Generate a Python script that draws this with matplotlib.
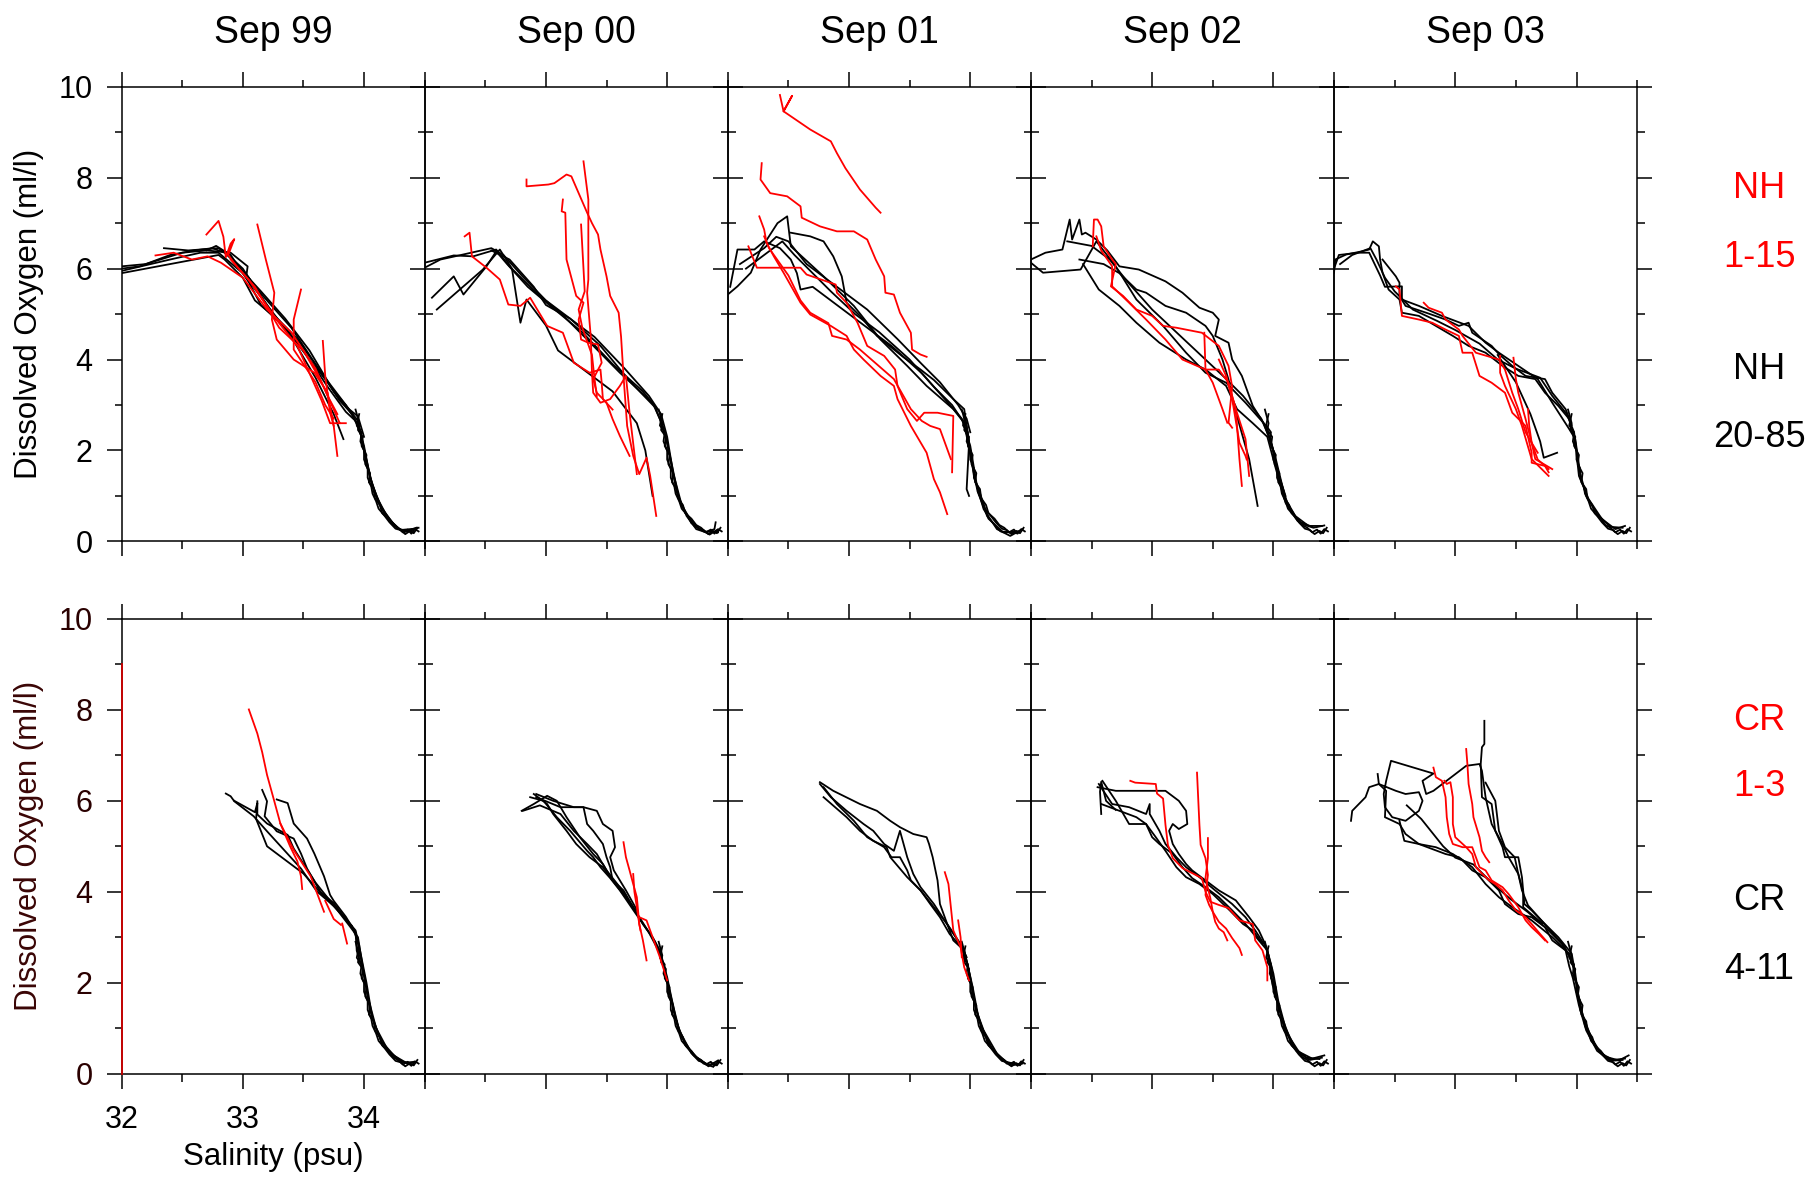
import matplotlib.pyplot as plt
from matplotlib.ticker import MultipleLocator

plt.rcParams['font.family'] = ['Liberation Sans', 'DejaVu Sans']

years = ['Sep 99', 'Sep 00', 'Sep 01', 'Sep 02', 'Sep 03']

# profiles as (salinity, oxygen) points
# ---- NH line, Sep 99
nh99_black = [
    [(32.0,5.9),(32.3,6.05),(32.6,6.2),(32.8,6.3),(32.85,6.2),(33.0,5.8),(33.1,5.3),(33.3,4.85),(33.5,4.2),(33.7,3.4),(33.85,2.85),(33.95,2.6),(34.0,2.1),(34.05,1.4),(34.13,0.8),(34.25,0.35),(34.33,0.2),(34.43,0.3)],
    [(32.0,6.0),(32.15,6.05),(32.4,6.3),(32.6,6.4),(32.75,6.45),(32.85,6.35),(32.95,6.1),(33.05,5.8),(33.25,5.0),(33.45,4.45),(33.65,3.7),(33.85,3.0),(33.95,2.65),(34.0,2.0),(34.06,1.3),(34.15,0.7),(34.27,0.3),(34.35,0.22),(34.45,0.3)],
    [(32.0,6.05),(32.2,6.1),(32.5,6.35),(32.7,6.4),(32.9,6.35),(33.04,6.05),(33.03,5.85),(33.15,5.5),(33.35,4.9),(33.55,4.2),(33.75,3.3),(33.85,3.0),(33.92,2.7),(33.98,2.3),(34.03,1.6),(34.1,1.0),(34.2,0.5),(34.3,0.25),(34.4,0.25)],
    [(32.0,5.95),(32.4,6.2),(32.65,6.35),(32.8,6.35),(33.0,5.9),(33.2,5.2),(33.4,4.5),(33.6,3.6),(33.75,2.8),(33.83,2.25)],
    [(32.35,6.45),(32.55,6.4),(32.8,6.45),(32.88,6.3),(33.0,6.0),(33.1,5.6),(33.2,5.3),(33.4,4.7),(33.6,3.9),(33.8,3.1),(33.9,2.8),(33.96,2.5),(34.02,1.8),(34.08,1.1),(34.18,0.55),(34.3,0.25),(34.42,0.28)],
    [(32.7,6.4),(32.78,6.5),(32.9,6.3),(33.05,5.7),(33.15,5.2),(33.35,4.7),(33.55,4.0),(33.7,3.5),(33.8,3.1),(33.88,2.9),(33.95,2.75),(34.0,2.3)],
]
nh99_red = [
    [(32.28,6.29),(32.43,6.35),(32.58,6.2),(32.71,6.27),(32.82,6.13),(33.0,5.8),(33.2,5.1),(33.4,4.6),(33.6,3.8),(33.7,3.2),(33.78,2.8)],
    [(32.7,6.75),(32.8,7.05),(32.84,6.7),(32.86,6.25),(32.9,6.55),(32.93,6.65),(32.88,6.3),(32.95,6.05),(33.1,5.6),(33.3,4.7),(33.5,4.2),(33.65,3.5),(33.8,2.6),(33.85,2.6)],
    [(33.12,6.97),(33.19,6.2),(33.26,5.47),(33.24,4.88),(33.28,4.44),(33.42,4.0),(33.59,3.71),(33.7,3.27),(33.75,2.54),(33.78,1.88)],
    [(33.48,5.54),(33.42,4.88),(33.42,4.22),(33.5,3.9),(33.6,3.5),(33.68,3.0),(33.75,2.7)],
    [(33.66,4.41),(33.68,3.64),(33.72,2.83),(33.75,2.54)],
    [(32.9,6.2),(33.05,5.75),(33.3,4.8),(33.45,4.3),(33.55,3.7),(33.65,3.1),(33.72,2.6),(33.8,2.6)],
]
# ---- NH line, Sep 00
nh00_black = [
    [(32.0,6.13),(32.24,6.29),(32.4,6.27),(32.59,6.42),(32.7,6.05),(32.92,5.47),(33.12,5.03),(33.34,4.44),(33.61,3.71),(33.88,3.05),(33.94,2.69),(34.0,2.17),(34.04,1.6),(34.08,1.08),(34.16,0.56),(34.24,0.27),(34.32,0.2),(34.39,0.27),(34.4,0.42)],
    [(32.0,6.02),(32.13,6.2),(32.3,6.3),(32.55,6.45),(32.65,6.3),(32.8,5.85),(33.0,5.3),(33.2,4.9),(33.45,4.3),(33.7,3.5),(33.9,2.95),(33.97,2.5),(34.03,1.8),(34.1,0.9),(34.2,0.4),(34.3,0.22),(34.42,0.2)],
    [(32.06,5.36),(32.24,5.83),(32.32,5.43),(32.51,6.05),(32.59,6.38),(32.68,6.1),(32.85,5.6),(33.05,5.15),(33.3,4.6),(33.55,3.9),(33.8,3.3),(33.92,2.9)],
    [(32.1,5.1),(32.32,5.61),(32.48,5.98),(32.62,6.42),(32.72,6.0),(32.79,4.81),(32.84,5.32),(33.0,4.75),(33.1,4.2),(33.3,3.8),(33.55,3.3),(33.75,2.6),(33.82,2.0),(33.88,1.0)],
    [(32.55,6.4),(32.7,6.2),(32.9,5.6),(33.0,5.2),(33.2,4.9),(33.4,4.5),(33.65,3.8),(33.85,3.2),(33.95,2.8),(34.0,2.3),(34.05,1.5),(34.12,0.8),(34.22,0.35),(34.35,0.15),(34.41,0.25)],
]
nh00_red = [
    [(32.33,6.71),(32.37,6.79),(32.39,6.27),(32.51,6.02),(32.62,5.76),(32.69,5.21),(32.79,5.18),(32.87,5.36),(33.01,4.74),(33.14,4.59),(33.23,3.93),(33.36,3.71),(33.45,3.78),(33.46,3.49),(33.47,3.13),(33.55,2.9)],
    [(32.84,7.96),(32.84,7.81),(33.02,7.85),(33.07,7.88),(33.17,8.07),(33.21,8.03),(33.34,7.23),(33.38,7.0),(33.43,6.75),(33.45,6.42),(33.5,5.83),(33.53,5.4),(33.6,5.03),(33.62,4.5),(33.64,3.64),(33.67,2.54),(33.72,1.88),(33.77,1.48),(33.83,1.84),(33.86,1.44),(33.91,0.56)],
    [(33.31,8.36),(33.35,7.52),(33.35,5.76),(33.34,5.47),(33.37,4.5),(33.38,3.71),(33.39,3.27),(33.45,3.05),(33.53,3.13),(33.61,3.42),(33.66,3.64),(33.69,2.83),(33.75,1.48)],
    [(33.14,7.52),(33.13,7.26),(33.16,7.23),(33.17,6.2),(33.25,5.4),(33.31,5.25),(33.27,4.88),(33.29,4.44),(33.35,4.37),(33.43,4.33),(33.46,3.93),(33.39,3.57),(33.42,3.27),(33.5,3.05),(33.55,2.69),(33.61,2.32),(33.69,1.88)],
    [(33.29,6.97),(33.31,6.0),(33.32,5.5),(33.27,5.1),(33.3,4.7),(33.38,4.1),(33.4,3.6),(33.42,3.2)],
]
# ---- NH line, Sep 01
nh01_black = [
    [(32.0,5.43),(32.08,5.61),(32.19,5.91),(32.27,6.42),(32.41,7.0),(32.49,7.15),(32.52,6.49),(32.79,5.83),(33.04,5.18),(33.26,4.44),(33.48,3.86),(33.64,3.42),(33.86,2.91),(33.97,2.54),(34.03,1.44),(34.11,0.71),(34.22,0.27),(34.33,0.12),(34.43,0.27)],
    [(32.52,6.79),(32.68,6.71),(32.79,6.6),(32.87,6.27),(32.94,5.83),(32.96,5.54),(32.98,5.25),(33.09,4.96),(33.23,4.52),(33.45,4.05),(33.59,3.78),(33.7,3.55),(33.86,3.13),(33.95,2.91),(33.99,2.17),(33.97,1.15),(33.99,1.0)],
    [(32.02,5.6),(32.08,6.42),(32.22,6.42),(32.3,6.6),(32.43,6.45),(32.52,6.2),(32.57,5.9),(32.6,5.54),(32.7,5.6),(32.9,5.2),(33.1,4.8),(33.35,4.3),(33.6,3.7),(33.8,3.1),(33.93,2.7),(34.0,2.1),(34.05,1.3),(34.15,0.5),(34.27,0.2),(34.4,0.22)],
    [(32.15,6.0),(32.3,6.3),(32.45,6.6),(32.55,6.3),(32.7,5.9),(32.85,5.5),(33.05,5.0),(33.25,4.6),(33.5,4.0),(33.7,3.4),(33.85,3.0),(33.95,2.6),(34.0,1.9),(34.06,1.1),(34.14,0.55),(34.25,0.22),(34.38,0.18)],
    [(32.1,6.1),(32.3,6.45),(32.4,6.7),(32.5,6.6),(32.65,6.1),(32.9,5.6),(33.15,5.1),(33.4,4.45),(33.6,3.9),(33.75,3.5),(33.9,3.0),(33.97,2.7),(34.0,2.4)],
]
nh01_red = [
    [(32.43,9.82),(32.46,9.46),(32.53,9.8),(32.46,9.46),(32.68,9.06),(32.85,8.8),(32.9,8.54),(32.97,8.21),(33.09,7.74),(33.22,7.34),(33.26,7.23)],
    [(32.28,8.32),(32.27,7.96),(32.35,7.66),(32.49,7.59),(32.6,7.37),(32.61,7.12),(32.76,6.93),(32.9,6.82),(33.04,6.82),(33.15,6.64),(33.22,6.2),(33.29,5.83),(33.3,5.47),(33.37,5.43),(33.42,5.03),(33.51,4.59),(33.52,4.22),(33.59,4.11),(33.64,4.06)],
    [(32.26,7.15),(32.3,6.86),(32.32,6.57),(32.38,6.27),(32.46,5.91),(32.6,5.25),(32.68,4.99),(32.85,4.74),(32.98,4.52),(33.04,4.22),(33.12,4.0),(33.26,3.64),(33.37,3.42),(33.4,3.13),(33.51,2.54),(33.64,1.95),(33.7,1.37),(33.75,1.08),(33.81,0.6)],
    [(32.17,6.49),(32.24,6.02),(32.6,6.02),(32.65,5.87),(32.89,5.65),(32.9,5.47),(32.98,5.25),(33.07,4.81),(33.15,4.3),(33.29,4.08),(33.38,3.78),(33.4,3.42),(33.48,2.91),(33.56,2.65),(33.62,2.83),(33.73,2.83),(33.86,2.76),(33.85,1.52)],
    [(32.3,6.71),(32.34,6.45),(32.5,5.85),(32.6,5.3),(32.68,5.03),(32.83,4.8),(32.86,4.52),(32.98,4.44),(33.09,4.22),(33.37,3.57),(33.51,2.91),(33.6,2.65),(33.67,2.54),(33.75,2.47),(33.84,1.81)],
]
# ---- NH line, Sep 02
nh02_black = [
    [(32.0,6.13),(32.1,5.91),(32.41,5.98),(32.54,6.6),(32.7,6.05),(32.87,5.32),(33.09,4.74),(33.28,4.15),(33.44,3.71),(33.61,3.49),(33.77,3.05),(33.94,2.54),(34.02,1.81),(34.1,0.93),(34.18,0.56),(34.29,0.34),(34.4,0.34)],
    [(32.0,6.2),(32.12,6.35),(32.26,6.42),(32.32,7.08),(32.34,6.64),(32.4,7.08),(32.42,6.75),(32.45,6.79),(32.54,6.64),(32.63,6.4),(32.73,6.05),(32.89,5.98),(33.11,5.72),(33.25,5.47),(33.39,5.14),(33.5,5.03),(33.55,4.88),(33.52,4.52),(33.63,4.37),(33.66,4.0),(33.74,3.64),(33.83,2.98),(33.92,2.6),(33.99,2.1),(34.05,1.4),(34.12,0.8),(34.22,0.4),(34.33,0.3),(34.42,0.35)],
    [(32.4,6.2),(32.6,6.1),(32.73,5.9),(32.87,5.54),(32.95,5.47),(33.11,5.18),(33.28,5.03),(33.44,4.74),(33.5,4.52),(33.58,4.0),(33.63,3.56),(33.66,3.13),(33.8,1.81),(33.87,0.78)],
    [(32.43,6.1),(32.56,5.54),(32.73,5.18),(32.87,4.81),(33.06,4.37),(33.28,4.0),(33.44,3.78),(33.61,3.42),(33.7,2.91),(33.83,2.6),(33.95,2.3),(34.02,1.6),(34.1,0.85),(34.2,0.45),(34.32,0.32)],
    [(32.3,6.6),(32.5,6.5),(32.65,6.2),(32.8,5.7),(33.0,5.1),(33.2,4.6),(33.4,4.1),(33.6,3.6),(33.75,3.2),(33.9,2.7),(33.98,2.2),(34.04,1.5),(34.1,1.0)],
]
nh02_red = [
    [(32.51,6.49),(32.52,7.08),(32.55,7.08),(32.58,6.93),(32.6,6.49),(32.67,6.2),(32.7,6.1),(32.66,5.61),(32.76,5.4),(32.87,5.1),(33.0,4.96),(33.09,4.74),(33.2,4.7),(33.41,4.59),(33.55,4.3),(33.63,3.86),(33.66,3.4),(33.63,2.61),(33.66,2.5)],
    [(32.54,6.71),(32.58,6.4),(32.67,6.05),(32.67,5.61),(32.81,5.25),(32.95,4.88),(33.11,4.44),(33.25,4.0),(33.44,3.78),(33.55,3.78),(33.63,3.49),(33.69,2.91),(33.77,2.25),(33.8,1.44)],
    [(33.43,4.59),(33.44,3.78),(33.5,3.49),(33.58,2.91),(33.62,2.61)],
    [(33.55,4.0),(33.61,3.64),(33.69,2.91),(33.72,1.81),(33.74,1.22)],
    [(33.61,3.64),(33.66,3.13),(33.72,2.17),(33.77,1.88),(33.78,1.8)],
]
# ---- NH line, Sep 03
nh03_black = [
    [(32.0,5.91),(32.01,6.2),(32.1,6.31),(32.23,6.38),(32.29,6.42),(32.32,6.6),(32.37,6.49),(32.38,6.2),(32.4,5.91),(32.45,5.54),(32.54,5.32),(32.56,5.03),(32.7,4.96),(32.84,4.74),(32.98,4.52),(33.11,4.3),(33.25,4.15),(33.39,3.86),(33.52,3.64),(33.66,3.57),(33.74,3.27),(33.85,2.98),(33.94,2.69),(33.99,2.17),(34.02,1.44),(34.1,0.93),(34.21,0.49),(34.32,0.27),(34.4,0.34)],
    [(32.0,6.0),(32.04,6.3),(32.2,6.35),(32.29,6.35),(32.38,5.85),(32.42,5.6),(32.56,5.61),(32.56,5.32),(32.7,5.18),(32.89,4.96),(33.11,4.74),(33.25,4.37),(33.36,4.15),(33.52,3.86),(33.68,3.57),(33.8,3.05),(33.94,2.47),(33.99,2.25),(34.03,1.5),(34.08,1.0),(34.17,0.6),(34.28,0.32),(34.38,0.3)],
    [(32.4,6.2),(32.51,5.83),(32.54,5.69),(32.54,5.4),(32.59,5.18),(32.76,5.03),(32.92,4.88),(33.03,4.74),(33.11,4.81),(33.14,4.59),(33.3,4.3),(33.36,4.12),(33.47,3.86),(33.58,3.64),(33.74,3.57),(33.8,3.27),(33.91,2.91),(33.96,2.56)],
    [(32.05,6.1),(32.15,6.3),(32.3,6.45),(32.35,6.2),(32.42,5.8),(32.5,5.5),(32.65,5.1),(32.85,4.85),(33.0,4.65),(33.2,4.35),(33.35,4.0),(33.5,3.8),(33.6,3.7),(33.7,3.6),(33.8,3.2),(33.92,2.8),(33.98,2.4),(34.0,2.0)],
    [(33.35,4.1),(33.5,3.5),(33.62,2.8),(33.7,2.2),(33.73,1.84),(33.77,1.88),(33.84,1.95)],
]
nh03_red = [
    [(32.51,5.61),(32.54,5.54),(32.56,4.96),(32.7,4.88),(32.81,4.81),(32.92,4.66),(33.03,4.52),(33.06,4.15),(33.14,4.15),(33.2,3.64),(33.3,3.49),(33.41,3.27),(33.47,2.83),(33.58,2.54),(33.63,1.95),(33.63,1.73),(33.74,1.66),(33.77,1.52)],
    [(32.74,5.25),(32.78,5.14),(32.89,5.03),(32.92,4.88),(33.03,4.66),(33.06,4.52),(33.17,4.15),(33.36,4.0),(33.41,3.78),(33.47,3.27),(33.52,2.91),(33.58,2.4),(33.63,2.17),(33.68,1.8),(33.77,1.59)],
    [(33.37,4.08),(33.37,3.71),(33.41,3.42),(33.5,2.91),(33.55,2.54),(33.63,1.81),(33.77,1.44)],
    [(33.48,4.04),(33.5,3.57),(33.52,3.27),(33.58,2.69),(33.63,2.17),(33.66,1.81),(33.8,1.59)],
    [(33.6,2.91),(33.61,2.54),(33.63,2.17),(33.68,1.95)],
]
# ---- CR line, Sep 99
cr99_black = [
    [(32.86,6.16),(32.9,6.1),(32.93,5.99),(33.09,5.66),(33.2,5.33),(33.34,4.92),(33.48,4.51),(33.61,4.01),(33.75,3.69),(33.86,3.36),(33.93,3.11),(33.94,2.7),(34.0,2.2),(34.05,1.38),(34.14,0.72),(34.25,0.39),(34.36,0.22),(34.41,0.26)],
    [(33.16,6.24),(33.2,5.99),(33.18,5.66),(33.28,5.33),(33.42,5.17),(33.48,4.84),(33.53,4.51),(33.64,4.0),(33.75,3.75),(33.85,3.4),(33.93,3.15),(33.96,2.8),(34.02,2.0),(34.07,1.2),(34.16,0.6),(34.28,0.3),(34.38,0.2)],
    [(33.28,6.03),(33.37,5.95),(33.42,5.5),(33.53,5.17),(33.59,4.84),(33.67,4.34),(33.72,3.93),(33.75,3.8),(33.85,3.45),(33.93,3.1),(33.97,2.6),(34.01,2.0)],
    [(33.12,5.99),(33.12,5.7),(33.2,5.5),(33.37,5.25),(33.42,4.95),(33.48,4.7),(33.6,4.2),(33.75,3.7),(33.88,3.25),(33.95,3.0),(33.98,2.5),(34.03,1.7),(34.1,1.0),(34.2,0.5),(34.32,0.25),(34.42,0.25)],
    [(32.93,6.0),(33.1,5.75),(33.12,5.95),(33.11,5.6),(33.2,5.0),(33.35,4.7),(33.5,4.4),(33.65,3.95),(33.8,3.55),(33.9,3.25),(33.95,2.9)],
]
cr99_red = [
    [(33.05,8.01),(33.12,7.48),(33.16,7.07),(33.2,6.57),(33.26,5.99),(33.31,5.5),(33.39,5.0),(33.45,4.67),(33.48,4.34),(33.49,4.06)],
    [(33.31,5.5),(33.42,4.92),(33.56,4.34),(33.67,3.56)],
    [(33.68,3.8),(33.75,3.4),(33.81,3.27)],
    [(33.82,3.3),(33.86,2.86)],
]
# ---- CR line, Sep 00
cr00_black = [
    [(32.8,5.78),(32.9,5.93),(33.01,6.11),(33.09,6.0),(33.17,5.64),(33.28,5.2),(33.39,4.83),(33.47,4.61),(33.55,4.25),(33.64,4.03),(33.72,3.66),(33.8,3.29),(33.88,3.0),(33.94,2.71),(34.0,2.12),(34.04,1.61),(34.08,1.1),(34.16,0.59),(34.27,0.29),(34.35,0.18),(34.42,0.29)],
    [(32.87,6.08),(32.98,6.0),(33.09,5.64),(33.2,5.34),(33.34,4.9),(33.39,4.76),(33.45,4.54),(33.53,4.3),(33.61,4.03),(33.72,3.6),(33.85,3.1),(33.95,2.6),(34.01,1.9),(34.06,1.3),(34.12,0.8),(34.22,0.4),(34.33,0.2),(34.4,0.2)],
    [(32.92,6.15),(33.06,6.0),(33.23,5.86),(33.31,5.86),(33.34,5.49),(33.39,5.34),(33.47,5.05),(33.5,4.76),(33.53,4.54),(33.55,4.25),(33.65,3.95),(33.78,3.4),(33.9,2.9),(33.97,2.4),(34.03,1.7),(34.1,0.95),(34.2,0.45),(34.3,0.22),(34.38,0.15)],
    [(32.92,6.08),(33.12,5.86),(33.31,5.86),(33.42,5.78),(33.47,5.49),(33.55,5.34),(33.57,4.98),(33.53,4.76),(33.56,4.47),(33.61,4.25),(33.66,4.03),(33.75,3.6)],
    [(32.9,6.15),(33.01,5.93),(33.06,5.71),(33.17,5.34),(33.25,5.05),(33.36,4.76),(33.47,4.54),(33.55,4.25),(33.68,3.8)],
    [(32.81,5.78),(32.95,5.9),(33.12,5.71),(33.23,5.34),(33.34,5.05),(33.42,4.83),(33.5,4.47),(33.61,4.1),(33.66,3.88),(33.74,3.59)],
]
cr00_red = [
    [(33.64,5.09),(33.66,4.76),(33.69,4.47),(33.72,4.17),(33.75,3.88),(33.76,3.59),(33.77,3.29),(33.78,3.15)],
    [(33.72,4.39),(33.73,4.0),(33.75,3.66),(33.77,3.29),(33.8,2.93),(33.83,2.49)],
    [(33.77,3.44),(33.83,3.37),(33.88,3.0),(33.94,2.56),(34.0,2.05)],
]
# ---- CR line, Sep 01
cr01_black = [
    [(32.76,6.41),(32.87,6.22),(33.09,5.93),(33.23,5.78),(33.34,5.56),(33.42,5.42),(33.53,5.27),(33.64,5.2),(33.66,5.05),(33.69,4.76),(33.73,4.25),(33.75,3.73),(33.81,3.29),(33.86,2.93),(33.95,2.71),(34.0,2.12),(34.05,1.39),(34.11,0.95),(34.22,0.44),(34.33,0.18),(34.43,0.22)],
    [(32.76,6.37),(32.85,6.08),(32.98,5.78),(33.12,5.49),(33.2,5.34),(33.29,5.05),(33.37,4.9),(33.42,5.34),(33.48,4.76),(33.53,4.39),(33.59,4.1),(33.7,3.73),(33.78,3.4),(33.88,3.0),(33.96,2.6),(34.02,1.9),(34.07,1.2),(34.15,0.65),(34.27,0.28),(34.38,0.2)],
    [(32.79,6.3),(32.9,5.93),(33.04,5.56),(33.15,5.2),(33.29,4.98),(33.35,4.76),(33.42,4.76),(33.48,4.47),(33.51,4.25),(33.59,4.03),(33.67,3.73),(33.75,3.44),(33.83,3.07),(33.92,2.8),(33.98,2.4),(34.03,1.6),(34.09,1.05),(34.18,0.55),(34.3,0.22),(34.4,0.2)],
    [(32.79,6.08),(32.98,5.64),(33.09,5.34),(33.2,5.12),(33.31,4.98),(33.34,4.76),(33.48,4.32),(33.59,4.03),(33.7,3.66),(33.81,3.29),(33.92,2.85),(33.97,2.56)],
]
cr01_red = [
    [(33.79,4.43),(33.82,4.17),(33.84,3.66),(33.86,3.15),(33.92,2.78),(33.95,2.34),(33.99,2.05)],
    [(33.9,3.37),(33.92,3.0),(33.93,2.56)],
]
# ---- CR line, Sep 02
cr02_black = [
    [(32.55,6.3),(32.7,6.22),(32.87,6.22),(33.0,6.22),(33.11,6.22),(33.22,6.0),(33.28,5.78),(33.29,5.49),(33.22,5.38),(33.17,5.49),(33.14,5.34),(33.17,5.05),(33.22,4.83),(33.28,4.61),(33.33,4.47),(33.44,4.25),(33.55,4.03),(33.69,3.81),(33.8,3.44),(33.88,3.15),(33.93,2.86),(33.96,2.56),(33.99,1.98),(34.05,1.39),(34.13,0.81),(34.21,0.48),(34.32,0.33),(34.42,0.4)],
    [(32.56,6.37),(32.67,5.93),(32.81,5.86),(32.95,5.71),(32.98,5.93),(32.98,5.71),(33.06,5.34),(33.11,5.05),(33.2,4.76),(33.28,4.54),(33.39,4.32),(33.52,4.03),(33.66,3.73),(33.77,3.44),(33.85,3.15),(33.94,2.78),(33.98,2.4),(34.02,1.75),(34.08,1.1),(34.16,0.6),(34.27,0.35),(34.38,0.32)],
    [(32.59,6.44),(32.7,6.0),(32.81,5.49),(32.95,5.49),(33.0,5.2),(33.06,5.05),(33.17,4.83),(33.25,4.54),(33.33,4.3),(33.44,4.1),(33.55,3.88),(33.66,3.59),(33.77,3.29),(33.88,2.93),(33.95,2.71),(34.0,2.2),(34.04,1.6),(34.1,1.0),(34.19,0.5),(34.3,0.3),(34.4,0.35)],
    [(32.58,5.93),(32.73,5.78),(32.87,5.64),(32.95,5.49),(33.03,5.2),(33.11,4.9),(33.2,4.54),(33.28,4.32),(33.39,4.17),(33.5,3.95),(33.64,3.59),(33.75,3.29),(33.83,3.15),(33.91,2.86)],
    [(32.58,5.71),(32.57,6.2),(32.58,6.42),(32.62,6.0),(32.7,5.8)],
]
cr02_red = [
    [(32.82,6.44),(32.86,6.4),(33.03,6.37),(33.04,6.16),(33.09,6.05),(33.11,5.47),(33.13,5.03),(33.17,4.74),(33.25,4.52),(33.33,4.41),(33.41,4.3),(33.44,4.0),(33.48,3.78),(33.55,3.71),(33.63,3.64),(33.72,3.37),(33.83,3.29),(33.85,2.93),(33.91,2.71),(33.95,2.34),(33.95,2.05)],
    [(33.37,6.62),(33.39,5.47),(33.4,5.03),(33.44,4.74),(33.46,4.37),(33.44,3.93),(33.47,3.71),(33.5,3.56),(33.52,3.34),(33.55,3.19),(33.59,3.11),(33.62,2.93)],
    [(33.46,5.18),(33.46,4.74),(33.44,4.3),(33.48,3.86),(33.5,3.56),(33.55,3.34),(33.61,3.19),(33.66,2.98),(33.72,2.76),(33.74,2.61)],
]
# ---- CR line, Sep 03
cr03_black = [
    [(33.24,7.76),(33.24,7.25),(33.22,7.18),(33.21,6.81),(33.22,6.08),(33.3,5.93),(33.33,5.34),(33.39,4.98),(33.41,4.76),(33.52,4.76),(33.55,4.32),(33.57,3.73),(33.63,3.59),(33.74,3.29),(33.85,3.0),(33.96,2.64),(33.99,2.2),(34.02,1.61),(34.07,1.1),(34.16,0.59),(34.24,0.37),(34.35,0.29),(34.43,0.4)],
    [(32.36,6.59),(32.37,6.37),(32.51,6.22),(32.59,6.15),(32.7,6.19),(32.73,6.0),(32.7,5.78),(32.59,5.56),(32.48,5.64),(32.42,5.86),(32.41,6.15),(32.43,6.44),(32.47,6.88),(32.82,6.6),(32.73,6.44),(32.76,6.15),(32.82,6.22),(33.09,6.77),(33.2,6.81),(33.22,6.66),(33.25,6.08),(33.3,5.49),(33.39,5.05),(33.44,4.76),(33.52,4.39),(33.55,4.03),(33.6,3.7),(33.7,3.4),(33.8,3.1),(33.9,2.8),(33.97,2.4),(34.01,1.8),(34.05,1.3),(34.12,0.8),(34.2,0.45),(34.3,0.3),(34.4,0.33)],
    [(32.14,5.56),(32.15,5.78),(32.26,6.08),(32.29,6.3),(32.37,6.37),(32.43,6.22),(32.42,5.64),(32.54,5.49),(32.59,5.27),(32.7,5.05),(32.84,4.98),(32.98,4.83),(33.06,4.69),(33.14,4.47),(33.25,4.32),(33.36,4.03),(33.41,3.73),(33.52,3.51),(33.63,3.44),(33.74,3.22),(33.8,2.93),(33.91,2.71),(33.94,2.36),(33.97,2.1),(34.02,1.5),(34.08,0.95),(34.17,0.5),(34.28,0.28),(34.38,0.3)],
    [(32.54,5.56),(32.58,5.12),(32.7,5.05),(32.92,4.83),(33.03,4.76),(33.14,4.54),(33.25,4.17),(33.36,3.88),(33.47,3.66),(33.63,3.37),(33.8,3.0),(33.94,2.64),(33.98,2.3)],
    [(33.25,6.4),(33.33,6.0),(33.36,5.34),(33.41,4.98),(33.49,4.76),(33.52,4.39),(33.56,4.0),(33.56,3.66),(33.63,3.5),(33.72,3.3)],
    [(32.6,5.9),(32.72,5.6),(32.9,5.0),(33.0,4.75),(33.15,4.6),(33.3,4.2),(33.45,3.85),(33.6,3.55),(33.75,3.2),(33.88,2.85),(33.95,2.55)],
]
cr03_red = [
    [(33.09,7.14),(33.1,6.81),(33.11,6.37),(33.14,5.93),(33.15,5.64),(33.2,5.2),(33.22,4.9),(33.25,4.76),(33.28,4.65)],
    [(32.82,6.73),(32.84,6.52),(32.89,6.44),(32.92,6.08),(32.93,5.64),(32.95,5.27),(32.98,5.05),(33.06,4.98),(33.14,4.98),(33.17,4.76),(33.2,4.54),(33.25,4.47),(33.3,4.25),(33.39,4.1),(33.44,3.95),(33.52,3.66),(33.58,3.37),(33.63,3.22),(33.69,3.07),(33.74,2.93)],
    [(32.91,6.44),(32.93,6.37),(32.96,6.41),(32.98,6.08),(32.98,5.49),(33.0,5.2),(33.09,4.98),(33.14,4.83),(33.17,4.54),(33.22,4.4),(33.28,4.25),(33.33,4.17),(33.39,4.03),(33.44,3.81),(33.5,3.59),(33.58,3.44),(33.63,3.29),(33.7,3.07),(33.76,2.89)],
]

# deep water end of the profiles, shared by every panel (many casts overlap here)
deep_tail_a = [(33.93,2.9),(33.96,2.6),(33.95,2.45),(33.99,2.3),(33.98,2.1),(34.02,1.9),(34.01,1.7),(34.05,1.5),(34.04,1.3),(34.08,1.15),(34.09,0.95),(34.13,0.8),(34.15,0.62),(34.2,0.5),(34.24,0.36),(34.28,0.3),(34.32,0.2),(34.36,0.26),(34.39,0.17),(34.42,0.27),(34.45,0.22)]
deep_tail_b = [(33.96,2.8),(33.94,2.55),(33.98,2.4),(33.97,2.2),(34.0,2.0),(34.0,1.8),(34.03,1.6),(34.03,1.4),(34.06,1.2),(34.07,1.05),(34.1,0.88),(34.12,0.72),(34.17,0.56),(34.21,0.42),(34.26,0.28),(34.3,0.25),(34.34,0.16),(34.38,0.23),(34.41,0.18),(34.44,0.3)]

nh_black = [nh99_black, nh00_black, nh01_black, nh02_black, nh03_black]
nh_red = [nh99_red, nh00_red, nh01_red, nh02_red, nh03_red]
cr_black = [cr99_black, cr00_black, cr01_black, cr02_black, cr03_black]
cr_red = [cr99_red, cr00_red, cr01_red, cr02_red, cr03_red]

fig = plt.figure(figsize=(18.14, 11.79), dpi=100)
left = 0.067
w = 0.1671
h = 0.3856
rows = [(0.5408, nh_black, nh_red), (0.0894, cr_black, cr_red)]

for r, (bottom, blacks, reds) in enumerate(rows):
    for c in range(5):
        ax = fig.add_axes([left + c * w, bottom, w, h])
        ax.set_facecolor('none')
        for prof in blacks[c] + [deep_tail_a, deep_tail_b]:
            s, o = zip(*prof)
            ax.plot(s, o, color='black', lw=1.3)
        for prof in reds[c]:
            s, o = zip(*prof)
            ax.plot(s, o, color='#ff0000', lw=1.3)
        ax.set_xlim(32, 34.5)
        ax.set_ylim(0, 10)
        ax.xaxis.set_major_locator(MultipleLocator(1))
        ax.xaxis.set_minor_locator(MultipleLocator(0.5))
        ax.yaxis.set_major_locator(MultipleLocator(2))
        ax.yaxis.set_minor_locator(MultipleLocator(1))
        ax.tick_params(which='both', direction='out', top=True, right=True,
                       width=1.1, labelsize=22)
        ax.tick_params(which='major', length=10.8)
        ax.tick_params(which='minor', length=5.4)
        ax.tick_params(axis='y', pad=10)
        ax.tick_params(axis='x', pad=12)
        for sp in ax.spines.values():
            sp.set_linewidth(1.1)
        if c > 0:
            ax.set_yticklabels([])
        if not (r == 1 and c == 0):
            ax.set_xticklabels([])
        if r == 1 and c == 0:
            ax.axvline(32, 0, 0.9, color='#d00000', lw=1.3, clip_on=False, zorder=5)
            for t in ax.get_yticklabels():
                t.set_color('#2a0000')

# column titles
for c, yr in enumerate(years):
    fig.text(left + (c + 0.5) * w, 0.972, yr, fontsize=27, ha='center', va='center')

fig.text(0.016, 0.7337, 'Dissolved Oxygen (ml/l)', rotation=90, fontsize=22.5,
         ha='center', va='center')
fig.text(0.016, 0.2824, 'Dissolved Oxygen (ml/l)', rotation=90, fontsize=22.5,
         ha='center', va='center', color='#3a0505')
fig.text(left + 0.5 * w, 0.0187, 'Salinity (psu)', fontsize=22.5, ha='center', va='center')

# station group labels
rx = 0.9697
fig.text(rx, 0.8405, 'NH', color='#ff0000', fontsize=26, ha='center', va='center')
fig.text(rx, 0.782, '1-15', color='#ff0000', fontsize=26, ha='center', va='center')
fig.text(rx, 0.6862, 'NH', color='black', fontsize=26, ha='center', va='center')
fig.text(rx, 0.6285, '20-85', color='black', fontsize=26, ha='center', va='center')
fig.text(rx, 0.3893, 'CR', color='#ff0000', fontsize=26, ha='center', va='center')
fig.text(rx, 0.3325, '1-3', color='#ff0000', fontsize=26, ha='center', va='center')
fig.text(rx, 0.2366, 'CR', color='black', fontsize=26, ha='center', va='center')
fig.text(rx, 0.1777, '4-11', color='black', fontsize=26, ha='center', va='center')

fig.savefig('out.png', dpi=100)
